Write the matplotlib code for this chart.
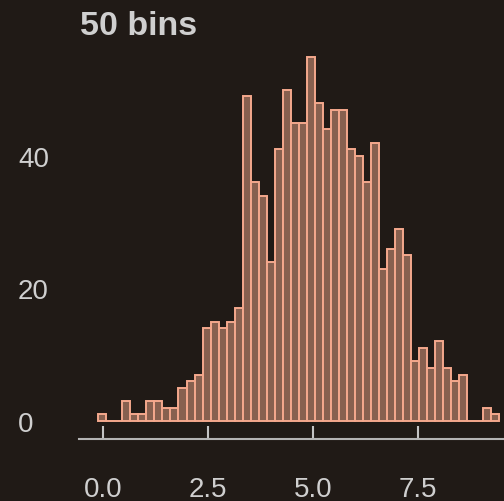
import numpy as np
import matplotlib
matplotlib.use("Agg")
from matplotlib import pyplot as plt

# counts per bin (1000 samples, 50 bins)
counts = [1, 0, 0, 3, 1, 1, 3, 3, 2, 2,
          5, 6, 7, 14, 15, 14, 15, 17, 49, 36,
          34, 24, 41, 50, 45, 45, 55, 48, 44, 47,
          47, 41, 40, 36, 42, 23, 26, 29, 25, 9,
          11, 8, 12, 8, 6, 7, 0, 0, 2, 1]
x_min = -0.112
x_max = 9.436
x_ticks = [0.0, 2.5, 5.0, 7.5]
x_labels = ["0.0", "2.5", "5.0", "7.5"]
y_ticks = [0, 20, 40]
y_labels = ["0", "20", "40"]
title = "50 bins"

bg = "#201a16"
text_col = "#cfcfcf"

edges = np.linspace(x_min, x_max, len(counts) + 1)
width = edges[1] - edges[0]

plt.rcParams["font.family"] = ["Liberation Sans", "DejaVu Sans"]

fig = plt.figure(figsize=(5.04, 5.02), dpi=100, facecolor=bg)
ax = fig.add_axes([79 / 504, 62 / 502, 425 / 504, 400 / 502])
ax.set_facecolor(bg)

ax.bar(edges[:-1], counts, width=width, align="edge",
       color="#87604f", edgecolor="#f4a88d", linewidth=1.4)

ax.set_xlim(-0.571, 9.548)
ax.set_ylim(-2.717, 57.66)

for s in ["top", "right", "left"]:
    ax.spines[s].set_visible(False)
ax.spines["bottom"].set_color("#b4b4b4")
ax.spines["bottom"].set_linewidth(1.5)

ax.set_xticks(x_ticks, x_labels)
ax.set_yticks(y_ticks, y_labels)
ax.tick_params(axis="x", direction="in", length=9.5, width=1.5,
               color="#c4c4c4", labelcolor=text_col, labelsize=20, pad=27)
ax.tick_params(axis="y", length=0, labelcolor=text_col, labelsize=20, pad=44)
for lab in ax.get_yticklabels():
    lab.set_horizontalalignment("left")

fig.text(80 / 504, 1 - 35 / 502, title, fontsize=24.5, fontweight="bold",
         color=text_col, ha="left", va="baseline")

fig.savefig("out.png", dpi=100, facecolor=bg)
